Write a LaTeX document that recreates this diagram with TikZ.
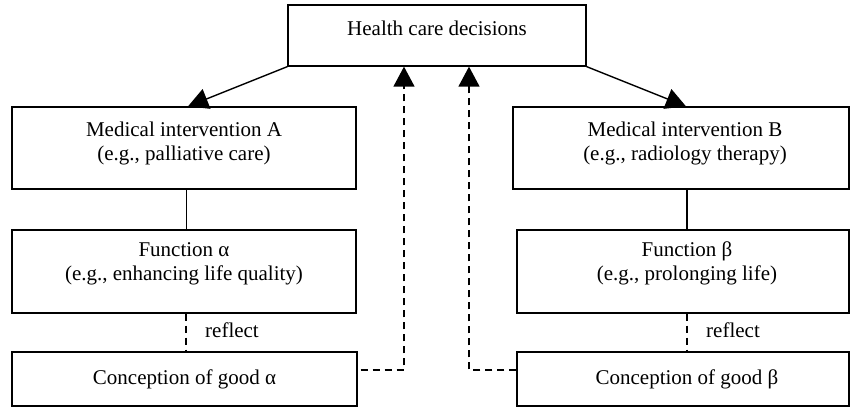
\documentclass[tikz,border=0pt]{standalone}
\usepackage{fontspec}
\setmainfont{Liberation Serif}
\usetikzlibrary{arrows.meta}
\begin{document}
\begin{tikzpicture}[x=1pt,y=-1pt,
  box/.style={draw, line width=1.3pt, inner sep=0pt},
  txt/.style={font=\fontsize{21}{24}\selectfont, align=center, inner sep=0pt},
  link/.style={line width=1.4pt},
  dlink/.style={line width=1.4pt, dash pattern=on 7pt off 5pt},
  tipped/.style={-{Triangle[length=20pt,width=21pt]}}
]
\useasboundingbox (0,0) rectangle (850,407);

% boxes
\node[box, minimum width=298pt, minimum height=61pt] (top) at (437,35.5) {};
\node[box, minimum width=344pt, minimum height=82pt] (ma) at (184,148) {};
\node[box, minimum width=344pt, minimum height=83pt] (fa) at (184,271.5) {};
\node[box, minimum width=345pt, minimum height=54pt] (ca) at (184.5,379) {};
\node[box, minimum width=336pt, minimum height=82pt] (mb) at (681,148) {};
\node[box, minimum width=332pt, minimum height=83pt] (fb) at (683,271.5) {};
\node[box, minimum width=332pt, minimum height=54pt] (cb) at (683,379) {};

% texts
\node[txt, anchor=base] (topT) at (437,35) {Health care decisions};
\node[txt, anchor=north] (maT) at (184,120.5) {\rule{0pt}{16pt}Medical intervention A\\(e.g., palliative care)};
\node[txt, anchor=north] (faT) at (184,240) {\rule{0pt}{16pt}Function α\\(e.g., enhancing life quality)};
\node[txt, anchor=base] (caT) at (184.5,384) {Conception of good α};
\node[txt, anchor=north] (mbT) at (685,120.5) {\rule{0pt}{16pt}Medical intervention B\\(e.g., radiology therapy)};
\node[txt, anchor=north] (fbT) at (687,240) {\rule{0pt}{16pt}Function β\\(e.g., prolonging life)};
\node[txt, anchor=base] (cbT) at (687,384) {Conception of good β};
\node[txt, anchor=base west] (r1) at (205,337) {reflect};
\node[txt, anchor=base west] (r2) at (706,337) {reflect};

% connectors
\draw[link, tipped] (top.south west) -- ([xshift=4pt]ma.north);
\draw[link, tipped] (top.south east) -- ([xshift=5pt]mb.north);
\draw[link] ([xshift=2.5pt]ma.south) -- ([xshift=2.5pt]fa.north);
\draw[link] ([xshift=6pt]mb.south) -- ([xshift=4pt]fb.north);
\draw[dlink] ([xshift=2pt]fa.south) -- ([xshift=1.5pt]ca.north);
\draw[dlink] ([xshift=4pt]fb.south) -- ([xshift=4pt]cb.north);
\draw[dlink, tipped] ([xshift=3pt,yshift=9pt]ca.east) -| ([xshift=-33pt]top.south);
\draw[dlink, tipped] ([yshift=9pt]cb.west) -| ([xshift=32pt]top.south);
\end{tikzpicture}
\end{document}
